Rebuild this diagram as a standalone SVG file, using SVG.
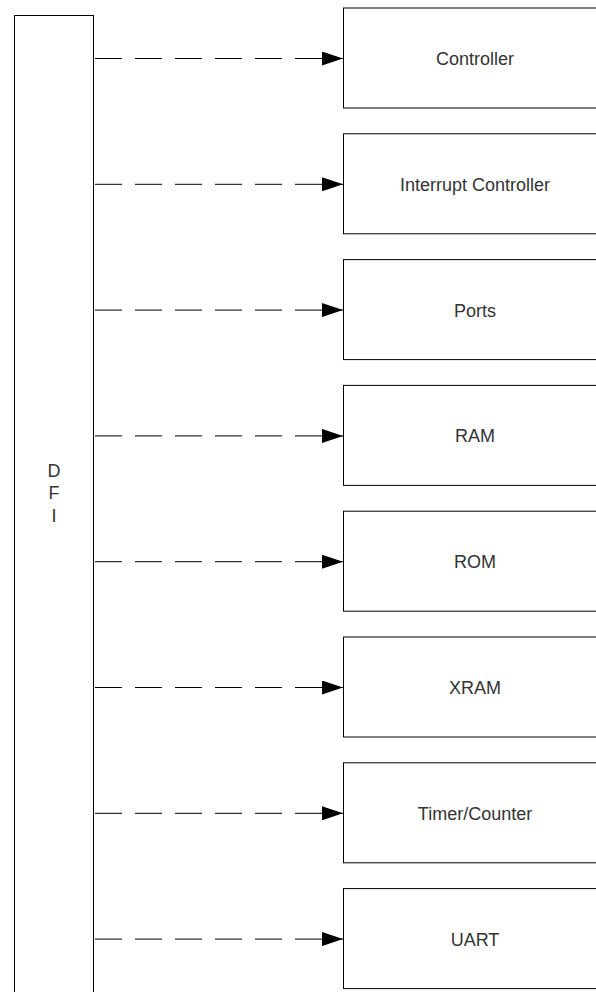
<svg xmlns="http://www.w3.org/2000/svg" width="596" height="992" viewBox="0 0 596 992">
<style>
.box{fill:#fff;stroke:#000;stroke-width:1}
.lbl{font-family:"Liberation Sans",Arial,sans-serif;font-size:18px;fill:#333;text-anchor:middle}
.conn{stroke:#000;stroke-width:1;fill:none;stroke-dasharray:27 13}
</style>
<defs>
<marker id="arr" markerUnits="userSpaceOnUse" markerWidth="22" markerHeight="14" refX="21" refY="7" orient="auto">
<path d="M0,0 L21,7 L0,14 Z" fill="#000"/>
</marker>
</defs>
<rect width="596" height="992" fill="#fff"/>
<g id="dfi">
<rect class="box" x="14.5" y="15.5" width="79" height="990"/>
<text class="lbl" x="54" y="477">D</text>
<text class="lbl" x="54" y="499">F</text>
<text class="lbl" x="54" y="521.5">I</text>
</g>
<g id="controller"><rect class="box" x="343.5" y="8" width="263" height="100"/><text class="lbl" x="475" y="65">Controller</text></g>
<g id="interrupt-controller"><rect class="box" x="343.5" y="133.8" width="263" height="100"/><text class="lbl" x="475" y="190.8">Interrupt Controller</text></g>
<g id="ports"><rect class="box" x="343.5" y="259.6" width="263" height="100"/><text class="lbl" x="475" y="316.6">Ports</text></g>
<g id="ram"><rect class="box" x="343.5" y="385.4" width="263" height="100"/><text class="lbl" x="475" y="442.4">RAM</text></g>
<g id="rom"><rect class="box" x="343.5" y="511.2" width="263" height="100"/><text class="lbl" x="475" y="568.2">ROM</text></g>
<g id="xram"><rect class="box" x="343.5" y="637" width="263" height="100"/><text class="lbl" x="475" y="694">XRAM</text></g>
<g id="timer-counter"><rect class="box" x="343.5" y="762.8" width="263" height="100"/><text class="lbl" x="475" y="819.8">Timer/Counter</text></g>
<g id="uart"><rect class="box" x="343.5" y="888.6" width="263" height="100"/><text class="lbl" x="475" y="945.6">UART</text></g>
<g id="connectors">
<line class="conn" x1="95" y1="58.5" x2="343" y2="58.5" marker-end="url(#arr)"/>
<line class="conn" x1="95" y1="184.3" x2="343" y2="184.3" marker-end="url(#arr)"/>
<line class="conn" x1="95" y1="310.1" x2="343" y2="310.1" marker-end="url(#arr)"/>
<line class="conn" x1="95" y1="435.9" x2="343" y2="435.9" marker-end="url(#arr)"/>
<line class="conn" x1="95" y1="561.7" x2="343" y2="561.7" marker-end="url(#arr)"/>
<line class="conn" x1="95" y1="687.5" x2="343" y2="687.5" marker-end="url(#arr)"/>
<line class="conn" x1="95" y1="813.3" x2="343" y2="813.3" marker-end="url(#arr)"/>
<line class="conn" x1="95" y1="939.1" x2="343" y2="939.1" marker-end="url(#arr)"/>
</g>
</svg>
